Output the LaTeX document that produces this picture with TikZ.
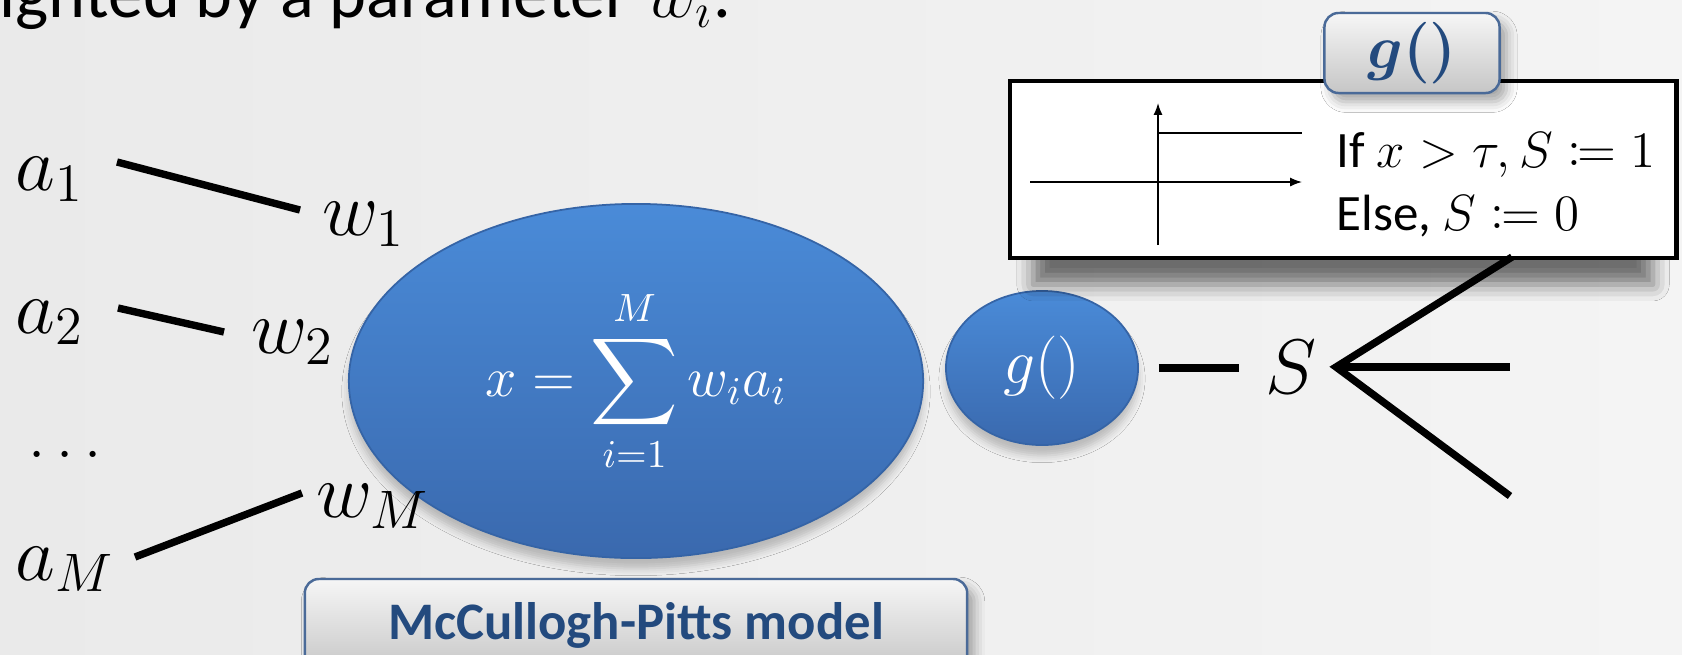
\documentclass[tikz,border=0pt]{standalone}
\usepackage{fix-cm}
\usepackage{amsmath}
\usepackage{mathtools}
\usepackage{bm}
\usepackage{fontspec}
\newfontfamily\calibri{Carlito}
\usetikzlibrary{arrows.meta,shapes.geometric,shadows.blur}
\definecolor{bgL}{HTML}{EAEAEA}
\definecolor{bgR}{HTML}{F4F4F4}
\definecolor{nTop}{HTML}{4A8BD8}
\definecolor{nBot}{HTML}{3A69AE}
\definecolor{nEdge}{HTML}{3564A6}
\definecolor{tagTop}{HTML}{F6F6F6}
\definecolor{tagBot}{HTML}{C6C6C6}
\definecolor{tagEdge}{HTML}{4A6A98}
\definecolor{tagText}{HTML}{234A7E}
\begin{document}
\begin{tikzpicture}[x=0.01cm,y=-0.01cm,
  wire/.style={line width=2.1pt},
  lbl/.style={inner sep=0pt, anchor=base west, font=\fontsize{22}{26}\selectfont},
  neuron/.style={ellipse, draw=nEdge, line width=0.5pt, top color=nTop, bottom color=nBot,
    inner sep=0pt, text=white,
    blur shadow={shadow xshift=0pt, shadow yshift=-3pt, shadow blur radius=2pt, shadow opacity=22}},
  tag/.style={rectangle, rounded corners=4pt, draw=tagEdge, line width=0.7pt,
    top color=tagTop, bottom color=tagBot, text=tagText, inner sep=0pt,
    blur shadow={shadow xshift=2pt, shadow yshift=-2.5pt, shadow blur radius=3pt, shadow opacity=35}},
  axis/.style={line width=0.45pt},
  axisarrow/.style={axis, -{Latex[length=3.4pt,width=2.6pt]}},
  rowtext/.style={anchor=base west, inner sep=0pt, font=\calibri\fontsize{14.5}{17}\selectfont}]
\useasboundingbox (0,0) rectangle (1682,654);
\shade[left color=bgL, right color=bgR] (0,0) rectangle (1682,654);

% heading fragment
\node[anchor=base west, inner sep=0pt, font=\calibri\fontsize{20}{24}\selectfont] (title) at (-1,17) {ighted by a parameter $w_i$.};

% neurons
\node[neuron, minimum width=5.74cm, minimum height=3.54cm, font=\fontsize{16}{19}\selectfont] (sum) at (636,381) {$\displaystyle x=\sum_{i=1}^{M} w_i a_i$};
\node[neuron, minimum width=1.92cm, minimum height=1.54cm, font=\fontsize{18}{21}\selectfont] (g) at (1042,368) {$g()$};

% inputs and weights
\node[lbl] (a1) at (15,190) {$a_1$};
\node[lbl] (a2) at (15,333) {$a_2$};
\node[lbl, font=\fontsize{18}{22}\selectfont] (dots) at (28,457) {$\dots$};
\node[lbl] (aM) at (15,580) {$a_M$};
\node[lbl] (w1) at (322,235) {$w_1$};
\node[lbl] (w2) at (251,353) {$w_2$};
\node[lbl] (wM) at (316,517) {$w_M$};

\coordinate (a1e) at (117,162); \coordinate (w1e) at (300,210);
\coordinate (a2e) at (118,308); \coordinate (w2e) at (224,332);
\coordinate (aMe) at (135,557); \coordinate (wMe) at (302,493);
\draw[wire] (a1e) -- (w1e);
\draw[wire] (a2e) -- (w2e);
\draw[wire] (aMe) -- (wMe);

% output
\node[lbl] (S) at (1265,393) {$S$};
\draw[wire] ([xshift=0.2cm]g.east) -- ([xshift=1.0cm]g.east);

% threshold box
\node[draw, line width=1.3pt, fill=white, minimum width=6.66cm, minimum height=1.77cm, inner sep=0pt,
  blur shadow={shadow xshift=0pt, shadow yshift=-10pt, shadow blur radius=5pt, shadow opacity=55,
    shadow scale=0.93}] (gbox) at (1343,169.5) {};
\draw[axisarrow] (1030,182) -- (1302,182);
\draw[axisarrow] (1158,245) -- (1158,103);
\draw[axis] (1158,133) -- (1302,133);
\node[rowtext] (r1) at (1336,167) {If $x>\tau, S\coloneqq 1$};
\node[rowtext] (r2) at (1336,230) {Else, $S\coloneqq 0$};

% fork
\coordinate (fork) at (1336,367);
\coordinate (o1) at (1512,257);
\coordinate (o2) at (1510,367);
\coordinate (o3) at (1510,496);
\draw[wire, line join=miter] (o1) -- (fork) -- (o3);
\draw[wire] (fork) -- (o2);

% tags
\node[tag, minimum width=1.75cm, minimum height=0.80cm, font=\fontsize{17.5}{20}\selectfont] (gtag) at (1412,53) {$\bm{g}\bm{()}$};
\node[tag, minimum width=6.62cm, minimum height=0.93cm, font=\calibri\bfseries\fontsize{15}{18}\selectfont] (mp) at (636,625.5) {McCullogh-Pitts model};
\end{tikzpicture}
\end{document}
